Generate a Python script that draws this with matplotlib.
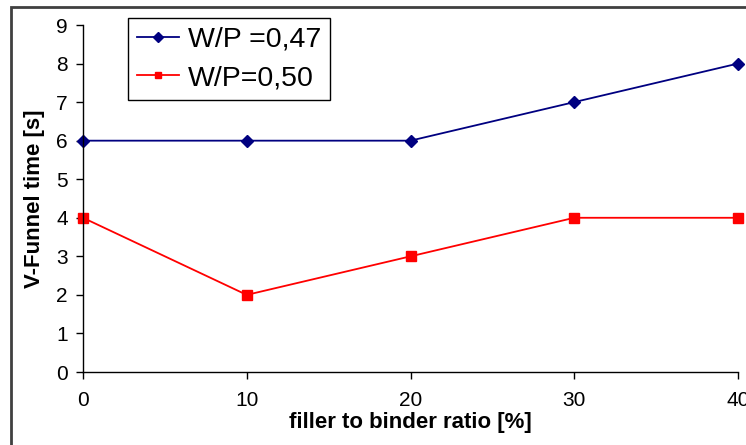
import matplotlib.pyplot as plt
from matplotlib.patches import Rectangle

# data
filler_ratio = [0, 10, 20, 30, 40]
wp_047 = [6, 6, 6, 7, 8]
wp_050 = [4, 2, 3, 4, 4]

x_ticks = [0, 10, 20, 30, 40]
y_ticks = list(range(0, 10))

plt.rcParams["font.family"] = ["Liberation Sans", "DejaVu Sans"]

fig = plt.figure(figsize=(7.46, 4.45), dpi=100)
ax = fig.add_axes([83 / 746, 1 - 372 / 445, (738 - 83) / 746, (372 - 25) / 445])

ax.plot(filler_ratio, wp_047, color="#000080", marker="D", markersize=6.5,
        linewidth=1.3, label="W/P =0,47", clip_on=False)
ax.plot(filler_ratio, wp_050, color="#FF0000", marker="s", markersize=6.5,
        linewidth=1.3, label="W/P=0,50", clip_on=False)

ax.set_xlim(0, 40)
ax.set_ylim(0, 9)
ax.set_xticks(x_ticks)
ax.set_yticks(y_ticks)
ax.tick_params(axis="both", labelsize=15, direction="out", length=5,
               width=1, color="black")
ax.tick_params(axis="x", pad=9)
ax.tick_params(axis="y", pad=6)

for side in ("top", "right"):
    ax.spines[side].set_visible(False)
for side in ("left", "bottom"):
    ax.spines[side].set_linewidth(1)
    ax.spines[side].set_color("black")

ax.set_xlabel("filler to binder ratio [%]", fontsize=16, fontweight="bold",
              labelpad=1)
ax.set_ylabel("V-Funnel time [s]", fontsize=16, fontweight="bold", labelpad=8)

leg = ax.legend(loc="upper left", bbox_to_anchor=(128 / 746, 1 - 18 / 445),
                bbox_transform=fig.transFigure, borderaxespad=0,
                fontsize=20.5, frameon=True, fancybox=False, edgecolor="black",
                framealpha=1, handlelength=1.5, borderpad=0.3,
                labelspacing=0.45, handletextpad=0.3, markerscale=0.75)
leg.get_frame().set_linewidth(1)

# outer chart border (partly clipped like the reference)
fig.patches.append(Rectangle((11 / 746, -0.2), 1.2, 1 - 7 / 445 + 0.2,
                             transform=fig.transFigure, fill=False,
                             edgecolor="#404040", linewidth=2))

fig.savefig("out.png", dpi=100)
